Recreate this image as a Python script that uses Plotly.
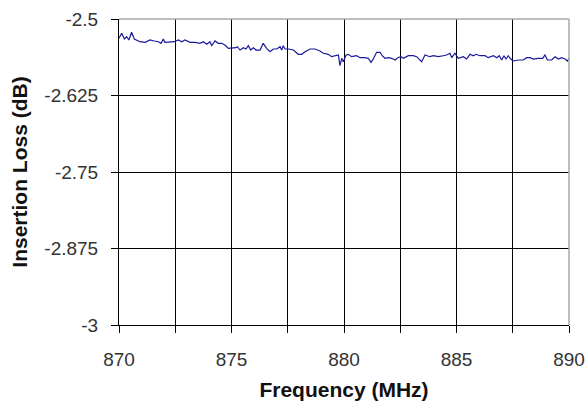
import plotly.graph_objects as go

# Frequency (MHz) and insertion loss (dB)
freq_mhz = [
    870.00, 870.12, 870.24, 870.34, 870.44, 870.56, 870.68, 870.79, 870.93, 871.16,
    871.38, 871.57, 871.75, 871.87, 871.97, 872.04, 872.27, 872.46, 872.64, 872.79,
    872.93, 873.16, 873.38, 873.60, 873.75, 873.90, 874.04, 874.12, 874.27, 874.41,
    874.56, 874.71, 874.86, 875.08, 875.20, 875.26, 875.38, 875.53, 875.64, 875.75,
    875.85, 875.97, 876.09, 876.27, 876.41, 876.56, 876.71, 876.86, 877.01, 877.16,
    877.23, 877.30, 877.38, 877.53, 877.75, 877.97, 878.12, 878.27, 878.49, 878.71,
    878.93, 879.08, 879.30, 879.45, 879.60, 879.75, 879.82, 879.90, 879.97, 880.09,
    880.19, 880.34, 880.56, 880.71, 880.93, 881.08, 881.20, 881.30, 881.45, 881.60,
    881.70, 881.82, 881.97, 882.12, 882.27, 882.39, 882.53, 882.64, 882.86, 883.08,
    883.23, 883.45, 883.60, 883.82, 883.97, 884.19, 884.41, 884.56, 884.71, 884.79,
    884.93, 885.08, 885.30, 885.45, 885.60, 885.75, 885.87, 886.04, 886.27, 886.41,
    886.64, 886.79, 886.90, 887.01, 887.11, 887.20, 887.30, 887.41, 887.53, 887.75,
    887.97, 888.12, 888.27, 888.41, 888.64, 888.83, 888.93, 889.04, 889.23, 889.38,
    889.53, 889.67, 889.82, 889.93, 890.00,
]
loss_db = [
    -2.5315, -2.5234, -2.5327, -2.5289, -2.5343, -2.5217, -2.5327, -2.5343, -2.5371, -2.5381,
    -2.5343, -2.5359, -2.5371, -2.5397, -2.5327, -2.5381, -2.5371, -2.5371, -2.5343, -2.5371,
    -2.5343, -2.5381, -2.5381, -2.5397, -2.5371, -2.5413, -2.5371, -2.5436, -2.5359, -2.5397,
    -2.5397, -2.5425, -2.5479, -2.5479, -2.5469, -2.5453, -2.5507, -2.5469, -2.5490, -2.5436,
    -2.5507, -2.5469, -2.5507, -2.5507, -2.5397, -2.5479, -2.5534, -2.5490, -2.5490, -2.5453,
    -2.5507, -2.5436, -2.5490, -2.5490, -2.5507, -2.5577, -2.5577, -2.5534, -2.5490, -2.5490,
    -2.5523, -2.5560, -2.5577, -2.5616, -2.5600, -2.5588, -2.5763, -2.5642, -2.5698, -2.5588,
    -2.5577, -2.5616, -2.5600, -2.5632, -2.5632, -2.5642, -2.5708, -2.5654, -2.5544, -2.5544,
    -2.5600, -2.5642, -2.5632, -2.5642, -2.5670, -2.5632, -2.5616, -2.5642, -2.5600, -2.5600,
    -2.5616, -2.5698, -2.5588, -2.5616, -2.5600, -2.5616, -2.5600, -2.5588, -2.5560, -2.5632,
    -2.5560, -2.5642, -2.5616, -2.5654, -2.5577, -2.5600, -2.5577, -2.5600, -2.5600, -2.5632,
    -2.5600, -2.5632, -2.5600, -2.5670, -2.5600, -2.5654, -2.5600, -2.5654, -2.5686, -2.5670,
    -2.5670, -2.5632, -2.5632, -2.5654, -2.5642, -2.5642, -2.5588, -2.5670, -2.5670, -2.5616,
    -2.5654, -2.5632, -2.5654, -2.5686, -2.5642,
]

y_tickvals = [-3, -2.875, -2.75, -2.625, -2.5]
y_ticktext = ["-3", "-2.875", "-2.75", "-2.625", "-2.5"]
x_tickvals = [870, 875, 880, 885, 890]
x_ticktext = ["870", "875", "880", "885", "890"]

FONT = "Liberation Sans, Arial, sans-serif"

fig = go.Figure()
fig.add_trace(go.Scatter(
    x=freq_mhz, y=loss_db, mode="lines",
    line=dict(color="#1a1a9c", width=1.2),
    hoverinfo="skip", showlegend=False, cliponaxis=False,
))

fig.update_layout(
    width=585, height=409,
    margin=dict(l=119, r=16, t=19, b=84),
    paper_bgcolor="white", plot_bgcolor="white",
    font=dict(family=FONT, color="#222222", size=19),
    showlegend=False,
)

fig.update_xaxes(
    range=[870, 890], automargin=False,
    tickvals=x_tickvals, ticktext=x_ticktext,
    showgrid=True, gridcolor="#000000", gridwidth=1,
    showline=True, linecolor="#000000", linewidth=1,
    ticks="outside", ticklen=7, tickcolor="#000000", tickwidth=1,
    ticklabelstandoff=10,
    minor=dict(dtick=2.5, tick0=870, showgrid=True, gridcolor="#000000", gridwidth=1,
               ticks="outside", ticklen=7, tickcolor="#000000"),
    tickfont=dict(family=FONT, size=19, color="#333333"),
    title=dict(text="<b>Frequency (MHz)</b>", standoff=13,
               font=dict(family=FONT, size=21, color="#111111")),
    zeroline=False, fixedrange=True,
)

fig.update_yaxes(
    range=[-3, -2.5], automargin=False,
    tickvals=y_tickvals, ticktext=y_ticktext,
    showgrid=True, gridcolor="#000000", gridwidth=1,
    showline=True, linecolor="#000000", linewidth=1,
    ticks="outside", ticklen=7, tickcolor="#000000", tickwidth=1,
    ticklabelstandoff=9,
    tickfont=dict(family=FONT, size=19, color="#333333"),
    title=dict(text="<b>Insertion Loss (dB)</b>", standoff=10,
               font=dict(family=FONT, size=21, color="#111111")),
    zeroline=False, fixedrange=True,
)

# light grey top and right borders of the plot area
fig.add_shape(type="line", xref="paper", yref="paper", x0=0, x1=1, y0=1, y1=1,
              line=dict(color="#a8a8a8", width=1.5), layer="above")
fig.add_shape(type="line", xref="paper", yref="paper", x0=1, x1=1, y0=0, y1=1,
              line=dict(color="#a8a8a8", width=1.5), layer="above")

fig.write_html("out.html")
